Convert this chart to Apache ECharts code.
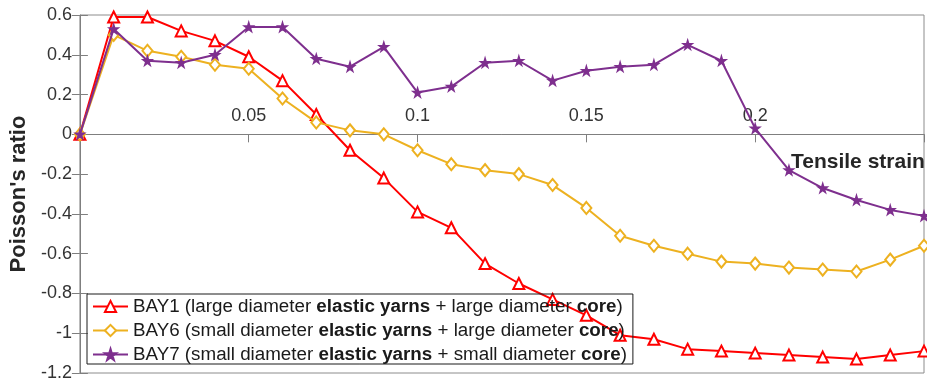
<!DOCTYPE html>
<html>
<head>
<meta charset="utf-8">
<script src="https://cdn.jsdelivr.net/npm/echarts@6/dist/echarts.min.js"></script>
<style>
  html, body { margin: 0; padding: 0; background: #fff; }
  #chart { width: 927px; height: 388px; }
</style>
</head>
<body>
<div id="chart"></div>
<script>
// Tensile strain sample points (shared by all three yarns)
const strain = [0, 0.01, 0.02, 0.03, 0.04, 0.05, 0.06, 0.07, 0.08, 0.09, 0.10, 0.11, 0.12,
  0.13, 0.14, 0.15, 0.16, 0.17, 0.18, 0.19, 0.20, 0.21, 0.22, 0.23, 0.24, 0.25];

// Poisson's ratio per sample
const bay1 = [0, 0.59, 0.59, 0.52, 0.47, 0.39, 0.27, 0.10, -0.08, -0.22, -0.39, -0.47, -0.65,
  -0.75, -0.83, -0.91, -1.01, -1.03, -1.08, -1.09, -1.10, -1.11, -1.12, -1.13, -1.11, -1.09];
const bay6 = [0, 0.50, 0.42, 0.39, 0.35, 0.33, 0.18, 0.06, 0.02, 0.00, -0.08, -0.15, -0.18,
  -0.20, -0.255, -0.37, -0.51, -0.56, -0.60, -0.64, -0.65, -0.67, -0.68, -0.69, -0.63, -0.56];
const bay7 = [0, 0.53, 0.37, 0.36, 0.40, 0.54, 0.54, 0.38, 0.34, 0.44, 0.21, 0.24, 0.36,
  0.37, 0.27, 0.32, 0.34, 0.35, 0.45, 0.37, 0.03, -0.18, -0.27, -0.33, -0.38, -0.41];

const seriesNames = [
  'BAY1 (large diameter elastic yarns + large diameter core)',
  'BAY6 (small diameter elastic yarns + large diameter core)',
  'BAY7 (small diameter elastic yarns + small diameter core)'
];
const seriesColors = ['#ff0000', '#edb120', '#7e2f8e'];
const xTickLabels = ['0.05', '0.1', '0.15', '0.2'];

const FONT = '"Liberation Sans", Arial, Helvetica, sans-serif';
const STAR = 'path://M50,0 L61,35 L98,35 L68,57 L79,91 L50,70 L21,91 L32,57 L2,35 L39,35 Z';

// Plot frame and value ranges
const GRID = { left: 73, top: 15, bottom: 15, right: -6 };
const Y_MIN = -1.2, Y_MAX = 0.6;
const PLOT_H = 388 - GRID.top - GRID.bottom;
// lift the strain axis from the frame bottom up to the Poisson's ratio = 0 line
const X_AXIS_OFFSET = -PLOT_H * (0 - Y_MIN) / (Y_MAX - Y_MIN);

function pairs(ys) { return strain.map((x, i) => [x, ys[i]]); }

function makeSeries(idx, values, symbol, symbolSize) {
  return {
    name: seriesNames[idx],
    type: 'line',
    data: pairs(values),
    symbol: symbol,
    symbolSize: symbolSize,
    showAllSymbol: true,
    lineStyle: { color: seriesColors[idx], width: 2 },
    itemStyle: { color: seriesColors[idx], borderColor: seriesColors[idx], borderWidth: 1.5 },
    emphasis: { disabled: true },
    animation: false,
    z: 2 + idx
  };
}

const chart = echarts.init(document.getElementById('chart'), null, { renderer: 'canvas' });

chart.setOption({
  backgroundColor: '#ffffff',
  animation: false,
  textStyle: { fontFamily: FONT },
  grid: Object.assign({
    show: true, borderColor: '#8c8c8c', borderWidth: 1, backgroundColor: 'transparent'
  }, GRID),
  legend: {
    orient: 'vertical',
    left: 87, top: 294,
    padding: [3, 6, 0, 5],
    itemGap: 5,
    itemWidth: 35,
    itemHeight: 14,
    borderColor: '#1a1a1a',
    borderWidth: 1,
    backgroundColor: 'transparent',
    data: seriesNames,
    formatter: name => name
      .replace('elastic yarns', '{b|elastic yarns}')
      .replace(' core)', ' {b|core})'),
    textStyle: {
      fontFamily: FONT, fontSize: 18.8, color: '#1a1a1a', lineHeight: 19,
      rich: { b: { fontFamily: FONT, fontSize: 18.8, fontWeight: 'bold', color: '#1a1a1a', lineHeight: 19 } }
    }
  },
  xAxis: [{
    type: 'value',
    position: 'bottom',
    offset: X_AXIS_OFFSET,
    min: 0, max: 0.25, interval: 0.05,
    axisLine: { show: true, onZero: false, lineStyle: { color: '#7f7f7f', width: 1 } },
    axisTick: { show: true, inside: false, length: 8, lineStyle: { color: '#7f7f7f' } },
    axisLabel: {
      inside: true, margin: 9, fontSize: 18, color: '#333333', fontFamily: FONT,
      formatter: v => {
        const i = Math.round(v / 0.05) - 1;
        return (i >= 0 && i < xTickLabels.length) ? xTickLabels[i] : '';
      }
    },
    splitLine: { show: false }
  }],
  yAxis: [{
    type: 'value',
    min: Y_MIN, max: Y_MAX, interval: 0.2,
    name: "Poisson's ratio",
    nameLocation: 'middle',
    nameGap: 27,
    nameTextStyle: { fontFamily: FONT, fontSize: 22, fontWeight: 'bold', color: '#262626' },
    axisLine: { show: true, onZero: false, lineStyle: { color: '#7f7f7f', width: 1 } },
    axisTick: { show: true, inside: true, length: 8, lineStyle: { color: '#7f7f7f' } },
    axisLabel: { margin: 8, fontSize: 18, color: '#333333', fontFamily: FONT },
    splitLine: { show: false }
  }, {
    type: 'value',
    position: 'right',
    min: Y_MIN, max: Y_MAX, interval: 0.2,
    axisLine: { show: false },
    axisTick: { show: true, inside: true, length: 8, lineStyle: { color: '#7f7f7f' } },
    axisLabel: { show: false },
    splitLine: { show: false }
  }],
  graphic: [{
    type: 'text',
    left: 791,
    top: 152,
    style: { text: 'Tensile strain', font: 'bold 21px ' + FONT, fill: '#262626' }
  }],
  series: [
    makeSeries(0, bay1, 'emptyTriangle', 11),
    makeSeries(1, bay6, 'emptyDiamond', [10, 12]),
    makeSeries(2, bay7, STAR, 9)
  ]
});
</script>
</body>
</html>
